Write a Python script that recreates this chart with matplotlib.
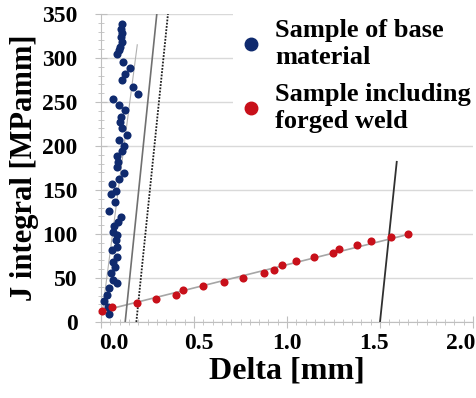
import matplotlib.pyplot as plt
from matplotlib.ticker import MultipleLocator
from matplotlib.lines import Line2D
from matplotlib.transforms import ScaledTranslation

# base material (blue) samples: delta [mm], J [MPamm]
base_delta = [0.111, 0.106, 0.113, 0.108, 0.111, 0.102, 0.097, 0.088, 0.120, 0.156,
              0.131, 0.111, 0.170, 0.199, 0.066, 0.099, 0.131, 0.106, 0.102, 0.111,
              0.141, 0.099, 0.125, 0.115, 0.084, 0.093, 0.088, 0.124, 0.099, 0.061,
              0.081, 0.052, 0.075, 0.041, 0.106, 0.093, 0.070, 0.066, 0.088, 0.081,
              0.084, 0.057, 0.088, 0.063, 0.075, 0.052, 0.066, 0.084, 0.045, 0.031,
              0.016, 0.039, 0.045]
base_j = [338.6, 332.6, 328.0, 323.5, 318.6, 312.9, 309.0, 304.0, 295.8, 288.3,
          281.8, 275.0, 266.7, 259.0, 253.4, 246.6, 241.0, 233.0, 227.6, 221.0,
          213.0, 206.8, 200.0, 194.7, 188.6, 182.2, 176.5, 169.0, 162.0, 156.5,
          149.0, 145.5, 136.7, 126.5, 119.7, 114.0, 109.0, 102.6, 98.9, 93.0,
          85.6, 81.8, 74.2, 68.5, 62.9, 55.3, 47.7, 44.0, 38.3, 30.7,
          24.2, 17.4, 9.1]

# forged weld (red) samples
weld_delta = [0.004, 0.057, 0.195, 0.296, 0.403, 0.443, 0.547, 0.661, 0.765, 0.876,
              0.932, 0.973, 1.047, 1.147, 1.249, 1.281, 1.378, 1.453, 1.561, 1.652]
weld_j = [12.5, 16.7, 21.2, 25.8, 30.7, 36.0, 40.5, 45.8, 50.4, 55.3,
          59.0, 64.4, 69.7, 74.2, 78.0, 83.3, 87.1, 91.7, 96.2, 100.0]

# helper lines (end points)
base_fit_x, base_fit_y = [0.005, 0.195], [8, 315]
weld_fit_x, weld_fit_y = [0.0, 1.66], [12.3, 100]
blunt_x, blunt_y = [0.13, 0.30], [0, 350]
excl1_x, excl1_y = [0.19, 0.36], [0, 350]
excl2_x, excl2_y = [1.50, 1.59], [0, 182]

x_ticks = [0.0, 0.5, 1.0, 1.5, 2.0]
y_ticks = [0, 50, 100, 150, 200, 250, 300, 350]
# x tick labels sit a little squeezed toward the middle in the original
x_label_shift = [13, 5, 0, -6, -12]

font = 'Liberation Serif'
blue = '#0f2a6e'
red = '#c8101a'

fig = plt.figure(figsize=(4.77, 3.98), dpi=100)
ax = fig.add_axes([101 / 477, 76 / 398, 372 / 477, 308 / 398])

ax.plot(base_fit_x, base_fit_y, color='#b0b0b0', lw=0.8, zorder=2)
ax.plot(weld_fit_x, weld_fit_y, color='#a6a6a6', lw=1.2, zorder=2)
ax.plot(blunt_x, blunt_y, color='#707070', lw=1.2, zorder=2)
ax.plot(excl1_x, excl1_y, color='#202020', lw=1.3, ls=(0, (1.0, 0.8)), zorder=2)
ax.plot(excl2_x, excl2_y, color='#303030', lw=1.3, zorder=2)

ax.scatter(base_delta, base_j, s=34, color=blue, lw=0, zorder=3, clip_on=False)
ax.scatter(weld_delta, weld_j, s=34, color=red, lw=0, zorder=3, clip_on=False)

ax.set_xlim(0, 2.0)
ax.set_ylim(0, 350)
ax.set_xticks(x_ticks)
ax.set_yticks(y_ticks)
ax.set_xticklabels(['%.1f' % v for v in x_ticks])
ax.xaxis.set_minor_locator(MultipleLocator(0.05))
ax.yaxis.set_minor_locator(MultipleLocator(10))
ax.tick_params(which='major', direction='inout', length=8, color='#bfbfbf',
               labelsize=17)
ax.tick_params(axis='y', which='major', pad=13)
ax.tick_params(axis='x', which='major', pad=4)
ax.tick_params(which='minor', direction='inout', length=5, color='#bfbfbf')
for lab in ax.get_xticklabels() + ax.get_yticklabels():
    lab.set_fontfamily(font)
    lab.set_fontweight('bold')
for lab, dx in zip(ax.get_xticklabels(), x_label_shift):
    lab.set_transform(lab.get_transform() + ScaledTranslation(dx / 100, 0, fig.dpi_scale_trans))

ax.grid(axis='y', which='major', color='#d9d9d9', lw=1)
ax.set_axisbelow(True)
for s in ['top', 'right']:
    ax.spines[s].set_visible(False)
for s in ['left', 'bottom']:
    ax.spines[s].set_color('#bfbfbf')

ax.set_xlabel('Delta [mm]', fontfamily=font, fontweight='bold', fontsize=23, labelpad=2)
ax.set_ylabel('J integral [MPamm]', fontfamily=font, fontweight='bold', fontsize=22, labelpad=2)

handles = [Line2D([], [], ls='none', marker='o', ms=9, color=blue),
           Line2D([], [], ls='none', marker='o', ms=9, color=red)]
leg = ax.legend(handles, ['Sample of base\nmaterial', 'Sample including\nforged weld'],
                loc='upper left', bbox_to_anchor=(233 / 477, 1 - 14 / 398),
                bbox_transform=fig.transFigure, borderaxespad=0, borderpad=0.2,
                handlelength=1.0, handletextpad=0.4, labelspacing=0.55,
                frameon=True, fancybox=False, edgecolor='none', facecolor='white',
                framealpha=1,
                prop={'family': font, 'weight': 'bold', 'size': 19})
leg.set_zorder(5)

fig.savefig('out.png', dpi=100)
